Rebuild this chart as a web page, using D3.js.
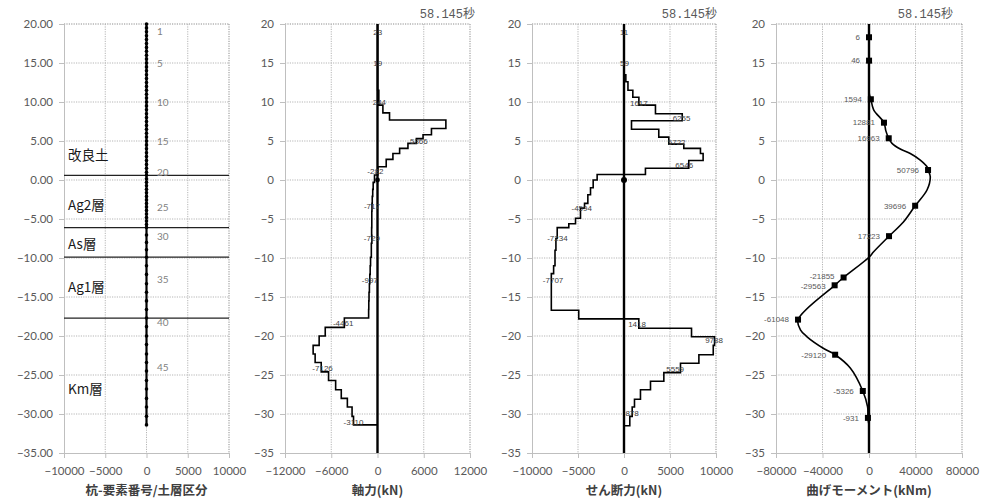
<!DOCTYPE html>
<html><head><meta charset="utf-8">
<script src="https://cdn.jsdelivr.net/npm/d3@7"></script>
<style>
body{margin:0;background:#fff;}
svg{display:block;}
</style>
</head><body>
<svg id="c" width="991" height="503"></svg>
<script>
// ---------------- DATA ----------------
const yTicks = [20,15,10,5,0,-5,-10,-15,-20,-25,-30,-35];
const pileXTicks = [-10000,-5000,0,5000,10000];
const axialXTicks = [-12000,-6000,0,6000,12000];
const shearXTicks = [-10000,-5000,0,5000,10000];
const momentXTicks = [-80000,-40000,0,40000,80000];
const axisTitles = ["杭-要素番号/土層区分","軸力(kN)","せん断力(kN)","曲げモーメント(kNm)"];
const timeLabel = "58.145秒";

// panel 1 : pile nodes, element numbers, soil layers
const pileDots = [20,19.5,19,18.5,18,17.5,17,16.5,16,15.5,15,14.5,14,13.5,13,12.5,12,11.5,11,10.5,10,9.5,9,8.5,8,7.5,7,6.5,6,5.5,5,4.5,4,3.5,3,2.5,2,1.5,1.0,0.6,0.15,-0.3,-0.75,-1.2,-1.65,-2.1,-2.55,-3.0,-3.45,-3.9,-4.35,-4.8,-5.25,-5.7,-6.1,-7.05,-8.0,-8.95,-9.9,-11.0,-12.1,-13.3,-14.4,-15.5,-16.6,-17.7,-18.8,-20.0,-21.1,-22.3,-23.4,-24.5,-25.7,-26.8,-28.0,-29.1,-30.3,-31.4];
const elemNo = ["1","5","10","15","20","25","30","35","40","45"];
const elemNoElev = [19.0,14.9,10.0,5.0,1.0,-3.5,-7.3,-12.7,-18.3,-24.0];
const layerBounds = [0.6,-6.1,-9.9,-17.7];
const layerNames = ["改良土","Ag2層","As層","Ag1層","Km層"];
const layerNameElev = [3.2,-3.2,-8.2,-13.7,-26.8];

// panel 2 : axial force (step per element)
const axialBounds = [20,11.5,9.6,8.6,7.7,6.6,5.8,5.3,4.7,4.06,3.4,2.65,1.7,0.64,-0.3,-1.2,-2.1,-3.0,-4.0,-6.1,-7.1,-8.1,-9.9,-11.0,-12.1,-13.3,-14.4,-15.5,-16.6,-17.7,-18.9,-20.0,-21.2,-22.3,-23.4,-24.6,-25.7,-26.9,-28.0,-29.1,-30.3,-31.4];
const axialVals = [20,170,700,1560,8870,7000,5910,5040,3950,2870,2000,1130,40,-390,-560,-620,-680,-717,-740,-760,-729,-800,-900,-950,-997,-1050,-1100,-1130,-1150,-4300,-6780,-7570,-8350,-8090,-7300,-6350,-5430,-4700,-3910,-3300,-3110];
const axialLabelVals = [23,19,244,5366,-282,-717,-729,-997,-4461,-7126,-3110];
const axialLabelElev = [19,15,10.0,5.0,1.1,-3.4,-7.5,-12.9,-18.4,-24.1,-31.0];

// panel 3 : shear force (step per element)
const shearBounds = [20,13.5,12.6,11.5,10.6,9.6,8.5,7.6,6.5,5.5,4.6,4.06,3.4,2.5,1.5,0.7,0,-1.0,-1.9,-3.0,-3.6,-4.9,-5.6,-6.1,-7.5,-9.0,-11.0,-12.0,-16.7,-17.8,-19.0,-20.1,-21.2,-22.4,-23.5,-24.7,-25.8,-26.9,-28.1,-29.1,-30.3,-31.5];
const shearVals = [10,200,430,960,1617,3420,6330,815,3780,4870,6500,8310,8600,7040,2330,-2920,-3350,-3640,-3930,-4290,-4730,-5270,-6000,-7260,-7400,-7500,-7650,-7900,-4920,1610,7340,9840,9700,8140,6140,4330,2880,1790,1140,890,630];
const shearLabelVals = [11,59,1617,6255,5722,6546,-4594,-7234,-7707,1418,9788,5559,878];
const shearLabelElev = [19,15,9.9,7.9,4.9,1.9,-3.6,-7.5,-12.9,-18.5,-20.6,-24.2,-29.9];

// panel 4 : bending moment (smooth curve + marked nodes)
const momentElev = [20,12,11,10.35,9.0,7.35,6.3,5.35,4.7,3.97,3.4,2.56,1.7,1.28,0.43,-1.28,-3.3,-5.35,-7.2,-9.2,-9.9,-12.5,-13.5,-17.9,-19.2,-20.1,-21.6,-22.4,-24.1,-27.05,-29.1,-30.5,-31.4];
const momentVals = [0,0,300,1594,4000,12881,14500,16963,19800,26900,35500,44100,49900,50796,52700,49900,39696,29800,17223,4000,0,-21855,-29563,-61048,-59000,-53300,-39000,-29120,-16100,-5326,-1200,-931,0];
const momentMarkElev = [18.3,15.3,10.35,7.35,5.35,1.28,-3.3,-7.2,-12.5,-13.5,-17.9,-22.4,-27.05,-30.5];
const momentMarkVals = [6,46,1594,12881,16963,50796,39696,17223,-21855,-29563,-61048,-29120,-5326,-931];

// ---------------- LAYOUT ----------------
const svg = d3.select("#c");
const Y_TOP = 24, Y_BOT = 453;
const y = d3.scaleLinear().domain([-35,20]).range([Y_BOT,Y_TOP]);
const TICKFONT = "Lato, 'Liberation Sans', sans-serif";
const CJK = "'Noto Sans CJK JP', 'Noto Sans', sans-serif";

const panels = [
  {l:64,  r:229, dom:[-10000,10000], ticks:pileXTicks,   fmt:d3.format(".2f"), title:axisTitles[0], timeX:null},
  {l:285, r:470, dom:[-12000,12000], ticks:axialXTicks,  fmt:d3.format("d"),   title:axisTitles[1], timeX:475},
  {l:532, r:716, dom:[-10000,10000], ticks:shearXTicks,  fmt:d3.format("d"),   title:axisTitles[2], timeX:717},
  {l:776, r:962, dom:[-80000,80000], ticks:momentXTicks, fmt:d3.format("d"),   title:axisTitles[3], timeX:953}
];

function styleAxis(sel){
  sel.select(".domain").attr("stroke","#bfbfbf").attr("stroke-width",1);
  sel.selectAll(".tick line").attr("stroke","#bfbfbf");
  sel.selectAll(".tick text").attr("fill","#595959").style("font-family",TICKFONT).style("font-size","11.5px");
}

function frame(p){
  const x = d3.scaleLinear().domain(p.dom).range([p.l,p.r]);
  const g = svg.append("g");
  g.selectAll("line.hg").data(yTicks.filter(t=>t!==-35)).join("line").attr("class","hg")
    .attr("x1",p.l).attr("x2",p.r).attr("y1",d=>y(d)).attr("y2",d=>y(d))
    .attr("stroke",d=>d===20?"#8c8c8c":"#b5b5b5").attr("stroke-dasharray","1.2,1.2");
  g.selectAll("line.vg").data(p.ticks.slice(1)).join("line").attr("class","vg")
    .attr("x1",d=>x(d)).attr("x2",d=>x(d)).attr("y1",Y_TOP).attr("y2",Y_BOT)
    .attr("stroke",(d,i,a)=>i===a.length-1?"#8c8c8c":"#b5b5b5").attr("stroke-dasharray","1.2,1.2");
  g.append("g").attr("transform",`translate(${p.l},0)`)
    .call(d3.axisLeft(y).tickValues(yTicks).tickFormat(p.fmt).tickSize(5).tickPadding(6)).call(styleAxis);
  g.append("g").attr("transform",`translate(0,${Y_BOT})`)
    .call(d3.axisBottom(x).tickValues(p.ticks).tickFormat(d3.format("d")).tickSize(5).tickPadding(9)).call(styleAxis);
  g.append("text").attr("x",(p.l+p.r)/2).attr("y",491).attr("dy","0.35em").attr("text-anchor","middle")
    .attr("fill","#404040").style("font-family",CJK).style("font-size","12.5px").style("font-weight","bold")
    .text(p.title);
  if(p.timeX!==null){
    g.append("text").attr("x",p.timeX).attr("y",14).attr("dy","0.35em").attr("text-anchor","end")
      .attr("fill","#595959").style("font-family","'Liberation Mono', 'Noto Sans CJK JP', monospace").style("font-size","12px")
      .text(timeLabel);
  }
  return {x,g};
}

const P = panels.map(frame);

// ---------- panel 1 ----------
{
  const {x,g} = P[0];
  g.selectAll("line.lay").data(layerBounds).join("line").attr("class","lay")
    .attr("x1",panels[0].l).attr("x2",panels[0].r).attr("y1",d=>y(d)).attr("y2",d=>y(d))
    .attr("stroke","#222").attr("stroke-width",1.3);
  g.append("line").attr("x1",x(0)).attr("x2",x(0)).attr("y1",y(pileDots[0])).attr("y2",y(pileDots[pileDots.length-1]))
    .attr("stroke","#000").attr("stroke-width",2.2);
  g.selectAll("circle.nd").data(pileDots).join("circle").attr("class","nd")
    .attr("cx",x(0)).attr("cy",d=>y(d)).attr("r",1.8).attr("fill","#000");
  g.selectAll("text.en").data(elemNo).join("text").attr("class","en")
    .attr("x",x(0)+10.5).attr("y",(d,i)=>y(elemNoElev[i])).attr("dy","0.35em")
    .attr("fill","#7f7f7f").style("font-family",TICKFONT).style("font-size","10px").text(d=>d);
  g.selectAll("text.ln").data(layerNames).join("text").attr("class","ln")
    .attr("x",panels[0].l+4).attr("y",(d,i)=>y(layerNameElev[i])).attr("dy","0.35em")
    .attr("fill","#1a1a1a").style("font-family",CJK).style("font-size","13.5px").text(d=>d);
}

function stepPts(bounds, vals){
  const pts=[];
  vals.forEach((v,i)=>{pts.push([v,bounds[i]]);pts.push([v,bounds[i+1]]);});
  pts.push([0,bounds[bounds.length-1]]);
  return pts;
}
function zeroLine(x,g){
  g.append("line").attr("x1",x(0)).attr("x2",x(0)).attr("y1",Y_TOP).attr("y2",Y_BOT)
    .attr("stroke","#000").attr("stroke-width",2.4);
}
function valueLabels(x,g,vals,elevs){
  g.selectAll("text.vl").data(vals).join("text").attr("class","vl")
    .attr("x",d=>x(d)).attr("y",(d,i)=>y(elevs[i])).attr("dy","0.35em").attr("text-anchor","middle")
    .attr("fill","#404040").style("font-family","'Liberation Sans', sans-serif").style("font-size","8px").text(d=>d);
}

// ---------- panel 2 ----------
{
  const {x,g} = P[1];
  zeroLine(x,g);
  const ln = d3.line().x(d=>x(d[0])).y(d=>y(d[1]));
  g.append("path").attr("d",ln(stepPts(axialBounds,axialVals))).attr("fill","none").attr("stroke","#000").attr("stroke-width",1.6);
  g.append("circle").attr("cx",x(0)).attr("cy",y(0)).attr("r",2.4).attr("fill","#000");
  valueLabels(x,g,axialLabelVals,axialLabelElev);
}
// ---------- panel 3 ----------
{
  const {x,g} = P[2];
  zeroLine(x,g);
  const ln = d3.line().x(d=>x(d[0])).y(d=>y(d[1]));
  g.append("path").attr("d",ln(stepPts(shearBounds,shearVals))).attr("fill","none").attr("stroke","#000").attr("stroke-width",1.6);
  g.append("circle").attr("cx",x(0)).attr("cy",y(0)).attr("r",3).attr("fill","#000");
  valueLabels(x,g,shearLabelVals,shearLabelElev);
}
// ---------- panel 4 ----------
{
  const {x,g} = P[3];
  zeroLine(x,g);
  const ln = d3.line().x((d,i)=>x(momentVals[i])).y((d,i)=>y(momentElev[i])).curve(d3.curveCatmullRom.alpha(0.5));
  g.append("path").attr("d",ln(momentElev)).attr("fill","none").attr("stroke","#000").attr("stroke-width",1.6);
  g.selectAll("rect.mk").data(momentMarkVals).join("rect").attr("class","mk")
    .attr("x",d=>x(d)-3).attr("y",(d,i)=>y(momentMarkElev[i])-3).attr("width",6).attr("height",6).attr("fill","#000");
  g.selectAll("text.ml").data(momentMarkVals).join("text").attr("class","ml")
    .attr("x",d=>x(d)-9).attr("y",(d,i)=>y(momentMarkElev[i])+(d===-21855?-1:d===-29563?1:0)).attr("dy","0.35em").attr("text-anchor","end")
    .attr("fill","#595959").style("font-family","'Liberation Sans', sans-serif").style("font-size","8px").text(d=>d);
}
</script>
</body></html>
